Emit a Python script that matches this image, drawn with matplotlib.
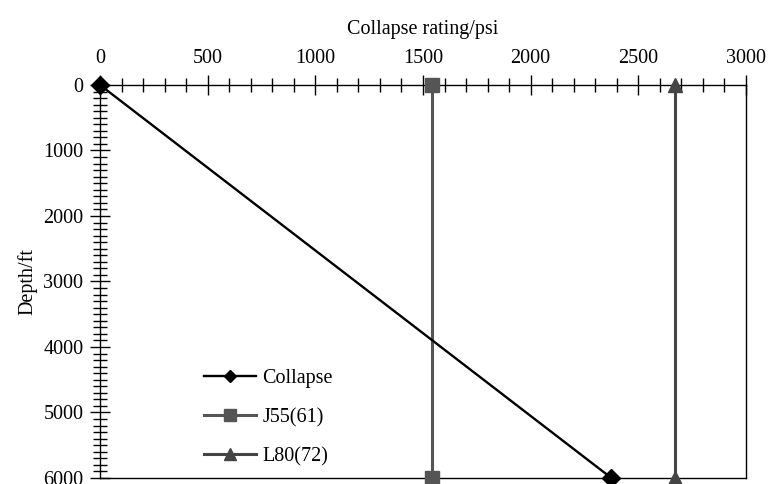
import matplotlib.pyplot as plt
from matplotlib.ticker import MultipleLocator

plt.rcParams["font.family"] = ["Liberation Serif", "DejaVu Serif"]

depth = [0, 6000]
collapse = [0, 2375]
j55 = [1540, 1540]
l80 = [2670, 2670]

fig = plt.figure(figsize=(7.7, 4.84), dpi=100)
ax = fig.add_axes([0.1299, 0.0124, 0.8389, 0.812])

ax.plot(collapse, depth, color="black", lw=1.7, marker="D", ms=9,
        clip_on=False, zorder=4, label="Collapse")
ax.plot(j55, depth, color="#555555", lw=2.2, marker="s", ms=10,
        clip_on=False, zorder=3, label="J55(61)")
ax.plot(l80, depth, color="#444444", lw=2.2, marker="^", ms=10,
        clip_on=False, zorder=3, label="L80(72)")

ax.set_xlim(0, 3000)
ax.set_ylim(6000, 0)
ax.xaxis.tick_top()
ax.xaxis.set_label_position("top")
ax.xaxis.set_major_locator(MultipleLocator(500))
ax.xaxis.set_minor_locator(MultipleLocator(100))
ax.yaxis.set_major_locator(MultipleLocator(1000))
ax.yaxis.set_minor_locator(MultipleLocator(100))
ax.tick_params(which="major", direction="inout", length=14, width=1.0,
               labelsize=14.5, pad=5)
ax.tick_params(which="minor", direction="inout", length=10, width=1.0)
for s in ax.spines.values():
    s.set_linewidth(1.0)

ax.set_xlabel("Collapse rating/psi", fontsize=14.5, labelpad=11)
ax.set_ylabel("Depth/ft", fontsize=14.5, labelpad=4)

leg = ax.legend(loc="lower left", bbox_to_anchor=(0.130, -0.022), frameon=False,
                fontsize=14.5, handlelength=2.6, handletextpad=0.3,
                labelspacing=1.0, borderaxespad=0.6)
for h, ms in zip(leg.legend_handles, [6, 8, 8]):
    h.set_markersize(ms)

fig.savefig("out.png", dpi=100)
